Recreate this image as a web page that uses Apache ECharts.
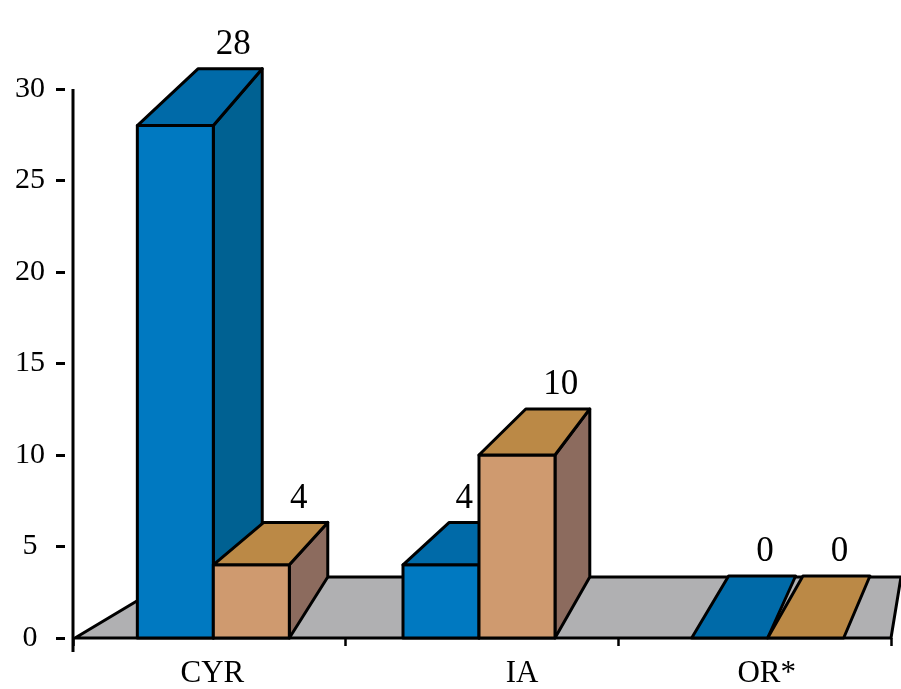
<!DOCTYPE html>
<html>
<head>
<meta charset="utf-8">
<script src="https://cdn.jsdelivr.net/npm/echarts@6/dist/echarts.min.js"></script>
<style>
  html, body { margin: 0; padding: 0; background: #ffffff; }
  #chart { width: 901px; height: 689px; }
</style>
</head>
<body>
<div id="chart"></div>
<script>
// Categories and the two value series (blue first, tan second)
const categories = ['CYR', 'IA', 'OR*'];
const blueValues = [28, 4, 0];
const tanValues = [4, 10, 0];
// Value axis range
const yMin = 0;
const yMax = 30;
const yStep = 5;

const FONT = '"Liberation Serif", "Times New Roman", Times, serif';

// Box styling
const BAR_W = 76;          // front face width of one box
const FLOOR_DEPTH = 61;    // vertical depth of the floor plane
const EDGE = { stroke: '#000000', lineWidth: 3, lineJoin: 'round' };

// Pair placement and category label nudges (pixels from the band centre)
const pairShift = { 'CYR': 4, 'IA': -3, 'OR*': 13 };
const labelShift = { 'CYR': 3, 'IA': 40, 'OR*': 12 };

const BLUE = { front: '#0079C1', top: '#006AA8', side: '#006192' };
const TAN = { front: '#CF9A6F', top: '#BB8946', side: '#8C6B5E' };

// Horizontal receding offset: a little smaller further right, larger for tall boxes
function depthAt(xc, h) { return 43 - 0.022 * (xc - 250) + 0.02 * h; }

function boxRenderer(slot, palette, partnerValues) {
  return function (params, api) {
    const i = api.value(0);
    const v = api.value(1);
    const base = api.coord([i, 0]);
    const topPt = api.coord([i, v]);
    const cx = base[0] + (pairShift[categories[i]] || 0);
    const L = slot === 0 ? cx - BAR_W : cx;
    const R = L + BAR_W;
    const y0 = base[1];
    const yT = topPt[1];
    const h = y0 - yT;
    const d = depthAt((L + R) / 2, h);
    const spread = v > 0 ? 6 : 4.5;
    const dxL = d + spread;
    const dxR = d - spread;
    const dyT = v > 0 ? -(40 + 0.033 * h) : -(FLOOR_DEPTH + 1);
    const children = [];
    if (v > 0) {
      children.push({
        type: 'polygon',
        shape: { points: [[R, yT], [R + dxR, yT + dyT], [R + dxR, y0 - FLOOR_DEPTH], [R, y0]] },
        style: Object.assign({ fill: palette.side }, EDGE)
      });
      children.push({
        type: 'rect',
        shape: { x: L, y: yT, width: BAR_W, height: h },
        style: Object.assign({ fill: palette.front }, EDGE)
      });
    }
    children.push({
      type: 'polygon',
      shape: { points: [[L, yT], [L + dxL, yT + dyT], [R + dxR, yT + dyT], [R, yT]] },
      style: Object.assign({ fill: palette.top }, EDGE)
    });
    // value label above the back edge of the top face
    const blocked = slot === 0 && partnerValues[i] > v && v > 0;
    children.push({
      type: 'text',
      style: {
        text: String(v),
        x: blocked ? R - 6 : (L + dxL + R + dxR) / 2 + 3,
        y: yT + dyT - 24,
        align: blocked ? 'right' : 'center',
        verticalAlign: 'middle',
        fontFamily: FONT,
        fontSize: 35,
        fill: '#000000'
      }
    });
    return { type: 'group', children: children };
  };
}

// Floor plane and the vertical axis line
function floorRenderer(params, api) {
  const band = api.size([1, 0])[0];
  const first = api.coord([0, 0]);
  const last = api.coord([categories.length - 1, 0]);
  const xl = first[0] - band / 2;
  const xr = last[0] + band / 2;
  const y0 = first[1];
  const yTop = api.coord([0, yMax])[1];
  return {
    type: 'group',
    children: [
      {
        type: 'polygon',
        shape: { points: [[xl + 2, y0], [xl + 104, y0 - FLOOR_DEPTH], [xr + 10, y0 - FLOOR_DEPTH], [xr, y0]] },
        style: Object.assign({ fill: '#B0B0B2' }, EDGE)
      },
      {
        type: 'line',
        shape: { x1: xl, y1: yTop, x2: xl, y2: y0 + 14 },
        style: { stroke: '#000000', lineWidth: 3 }
      }
    ]
  };
}

const axisData = categories.map(function (c) {
  const s = labelShift[c] || 0;
  return { value: c, textStyle: { padding: [0, 0, 0, 2 * s] } };
});

const chart = echarts.init(document.getElementById('chart'), null, { renderer: 'canvas' });
chart.setOption({
  animation: false,
  backgroundColor: '#ffffff',
  grid: { left: 73, right: 10, top: 89, bottom: 48, containLabel: false },
  xAxis: {
    type: 'category',
    data: axisData,
    offset: 9,
    axisLine: { show: false },
    axisTick: { show: true, length: 8, lineStyle: { color: '#000000', width: 2.5 } },
    axisLabel: { margin: 11, fontFamily: FONT, fontSize: 31, color: '#000000' },
    splitLine: { show: false }
  },
  yAxis: {
    type: 'value',
    min: yMin,
    max: yMax,
    interval: yStep,
    offset: 8,
    axisLine: { show: false },
    axisTick: { show: true, length: 9, lineStyle: { color: '#000000', width: 3 } },
    axisLabel: { margin: 35, align: 'center', fontFamily: FONT, fontSize: 30, color: '#000000' },
    splitLine: { show: false }
  },
  series: [
    {
      type: 'custom',
      z: 1,
      renderItem: floorRenderer,
      data: [[0, 0]],
      encode: { x: 0, y: 1 },
      silent: true
    },
    {
      type: 'custom',
      z: 2,
      renderItem: boxRenderer(0, BLUE, tanValues),
      data: categories.map(function (c, i) { return [i, blueValues[i]]; }),
      encode: { x: 0, y: 1 }
    },
    {
      type: 'custom',
      z: 3,
      renderItem: boxRenderer(1, TAN, blueValues),
      data: categories.map(function (c, i) { return [i, tanValues[i]]; }),
      encode: { x: 0, y: 1 }
    }
  ]
});
</script>
</body>
</html>
